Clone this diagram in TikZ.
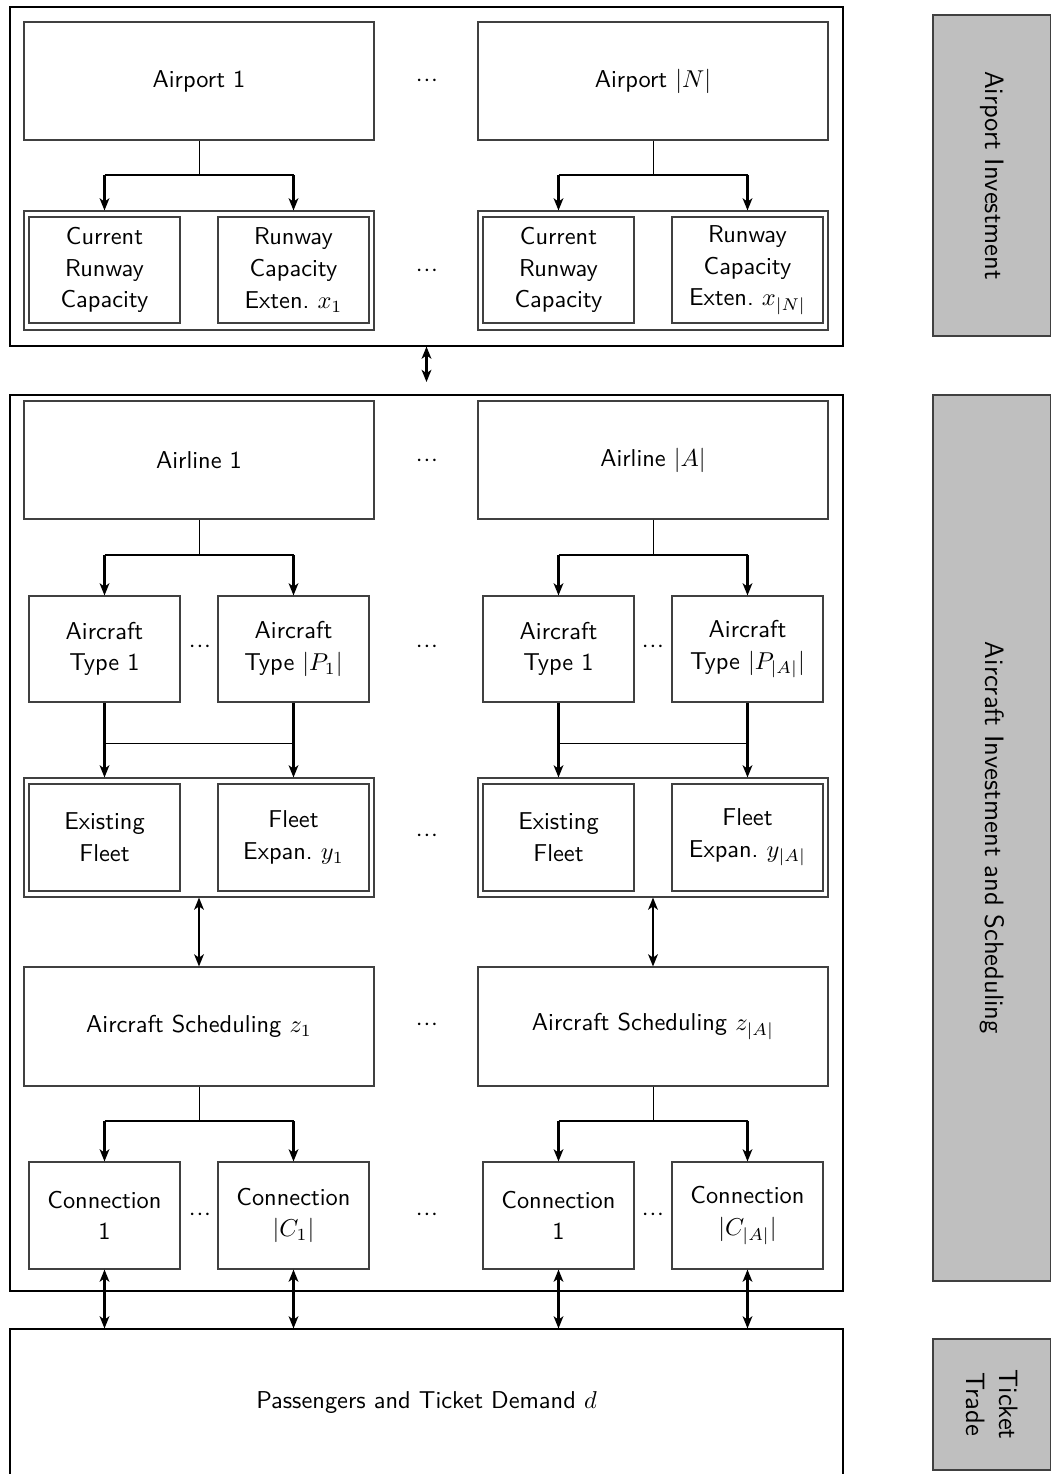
\documentclass[tikz,border=0pt]{standalone}
\usetikzlibrary{arrows.meta}
\newcommand\mydots{$\mathord{\cdotp}\kern0.35pt\mathord{\cdotp}\kern0.35pt\mathord{\cdotp}$}
\begin{document}
\begin{tikzpicture}[x=0.41pt,y=-0.41pt,
  font=\sffamily\fontsize{10}{13}\selectfont,
  box/.style 2 args={draw=black!75, line width=0.45pt, minimum width=#1*0.41pt, minimum height=#2*0.41pt, inner sep=0pt, align=center},
  frame/.style 2 args={draw=black, line width=0.45pt, minimum width=#1*0.41pt, minimum height=#2*0.41pt, inner sep=0pt},
  side/.style 2 args={draw=black!75, fill=gray!50, line width=0.45pt, rotate=-90, minimum width=#1*0.41pt, minimum height=#2*0.41pt, inner sep=0pt, align=center, font=\sffamily\fontsize{10.9}{13.5}\selectfont},
  tip/.tip={Stealth[length=5pt,width=4pt,inset=1.4pt]},
  arr/.style={line width=0.85pt, -tip},
  darr/.style={line width=0.85pt, tip-tip},
  stem/.style={line width=0.4pt},
  branch/.style={line width=0.55pt},
  dots/.style={inner sep=0pt}
]
\useasboundingbox (0,0) rectangle (1051,1474);

% ---------------- Airport level ----------------
\node[frame={833}{339}] (apbox) at (426.5,176.5) {};
\node[box={350}{118}] (ap1) at (199,81) {Airport 1};
\node[box={350}{118}] (apN) at (653,81) {Airport $|N|$};
\node[dots] (da1) at (427,81) {\mydots};

\node[box={350}{119}] (ap1g) at (199,270.5) {};
\node[box={151}{106}] (cr1) at (104.5,270) {Current\\Runway\\Capacity};
\node[box={151}{106}] (re1) at (293.5,270) {Runway\\Capacity\\Exten.\ $x_1$};
\node[box={350}{119}] (apNg) at (653,270.5) {};
\node[box={151}{106}] (crN) at (558.5,270) {Current\\Runway\\Capacity};
\node[box={151}{106}] (reN) at (747.5,270) {Runway\\Capacity\\Exten.\ $x_{|N|}$};
\node[dots] (da2) at (427,271) {\mydots};

\coordinate (bap1) at (199,175);
\coordinate (bapN) at (653,175);
\draw[stem] (ap1.south) -- (bap1);
\draw[branch] (cr1 |- bap1) -- (re1 |- bap1);
\draw[arr] (cr1 |- bap1) -- (cr1 |- ap1g.north);
\draw[arr] (re1 |- bap1) -- (re1 |- ap1g.north);
\draw[stem] (apN.south) -- (bapN);
\draw[branch] (crN |- bapN) -- (reN |- bapN);
\draw[arr] (crN |- bapN) -- (crN |- apNg.north);
\draw[arr] (reN |- bapN) -- (reN |- apNg.north);

\coordinate (mid) at (426.5,382);
\draw[darr] (apbox.south) -- (mid);

% ---------------- Airline level ----------------
\node[frame={833}{896}] (albox) at (426.5,843) {};
\node[box={350}{118}] (al1) at (199,460) {Airline 1};
\node[box={350}{118}] (alA) at (653,460) {Airline $|A|$};
\node[dots] (db1) at (427,461) {\mydots};

\node[box={151}{106}] (t11) at (104.5,649) {Aircraft\\Type 1};
\node[box={151}{106}] (t1P) at (293.5,649) {Aircraft\\Type $|P_1|$};
\node[box={151}{106}] (tA1) at (558.5,649) {Aircraft\\Type 1};
\node[box={151}{106}] (tAP) at (747.5,649) {Aircraft\\Type $|P_{|A|}|$};
\node[dots] (db2) at (200,647) {\mydots};
\node[dots] (db3) at (427,647) {\mydots};
\node[dots] (db4) at (653,647) {\mydots};

\coordinate (bal1) at (199,555);
\coordinate (balA) at (653,555);
\draw[stem] (al1.south) -- (bal1);
\draw[branch] (t11 |- bal1) -- (t1P |- bal1);
\draw[arr] (t11 |- bal1) -- (t11.north);
\draw[arr] (t1P |- bal1) -- (t1P.north);
\draw[stem] (alA.south) -- (balA);
\draw[branch] (tA1 |- balA) -- (tAP |- balA);
\draw[arr] (tA1 |- balA) -- (tA1.north);
\draw[arr] (tAP |- balA) -- (tAP.north);

\node[box={350}{119}] (fl1g) at (199,837.5) {};
\node[box={151}{107}] (ef1) at (104.5,837.5) {Existing\\Fleet};
\node[box={151}{107}] (fe1) at (293.5,837.5) {Fleet\\Expan.\ $y_1$};
\node[box={350}{119}] (flAg) at (653,837.5) {};
\node[box={151}{107}] (efA) at (558.5,837.5) {Existing\\Fleet};
\node[box={151}{107}] (feA) at (747.5,837.5) {Fleet\\Expan.\ $y_{|A|}$};
\node[dots] (db5) at (427,836) {\mydots};

\coordinate (h1) at (199,743);
\coordinate (hA) at (653,743);
\draw[arr] (t11.south) -- (t11 |- fl1g.north);
\draw[arr] (t1P.south) -- (t1P |- fl1g.north);
\draw[stem] (t11 |- h1) -- (t1P |- h1);
\draw[arr] (tA1.south) -- (tA1 |- flAg.north);
\draw[arr] (tAP.south) -- (tAP |- flAg.north);
\draw[stem] (tA1 |- hA) -- (tAP |- hA);

\node[box={350}{119}] (sc1) at (199,1026.5) {Aircraft Scheduling $z_1$};
\node[box={350}{119}] (scA) at (653,1026.5) {Aircraft Scheduling $z_{|A|}$};
\node[dots] (db6) at (427,1025) {\mydots};
\draw[darr] (fl1g.south) -- (sc1.north);
\draw[darr] (flAg.south) -- (scA.north);

\node[box={151}{107}] (c11) at (104.5,1215.5) {Connection\\1};
\node[box={151}{107}] (c1C) at (293.5,1215.5) {Connection\\$|C_1|$};
\node[box={151}{107}] (cA1) at (558.5,1215.5) {Connection\\1};
\node[box={151}{107}] (cAC) at (747.5,1215.5) {Connection\\$|C_{|A|}|$};
\node[dots] (db7) at (200,1215) {\mydots};
\node[dots] (db8) at (427,1215) {\mydots};
\node[dots] (db9) at (653,1215) {\mydots};

\coordinate (bs1) at (199,1121);
\coordinate (bsA) at (653,1121);
\draw[stem] (sc1.south) -- (bs1);
\draw[branch] (c11 |- bs1) -- (c1C |- bs1);
\draw[arr] (c11 |- bs1) -- (c11.north);
\draw[arr] (c1C |- bs1) -- (c1C.north);
\draw[stem] (scA.south) -- (bsA);
\draw[branch] (cA1 |- bsA) -- (cAC |- bsA);
\draw[arr] (cA1 |- bsA) -- (cA1.north);
\draw[arr] (cAC |- bsA) -- (cAC.north);

% ---------------- Passengers ----------------
\node[frame={833}{148}] (pax) at (426.5,1403) {Passengers and Ticket Demand $d$};
\draw[darr] (c11.south) -- (c11 |- pax.north);
\draw[darr] (c1C.south) -- (c1C |- pax.north);
\draw[darr] (cA1.south) -- (cA1 |- pax.north);
\draw[darr] (cAC.south) -- (cAC |- pax.north);

% ---------------- Side labels ----------------
\node[side={321}{118}] (s1) at (992,175.5) {Airport Investment};
\node[side={886}{118}] (s2) at (992,838) {Aircraft Investment and Scheduling};
\node[side={131}{118}] (s3) at (992,1404.5) {Ticket\\Trade};
\end{tikzpicture}
\end{document}
